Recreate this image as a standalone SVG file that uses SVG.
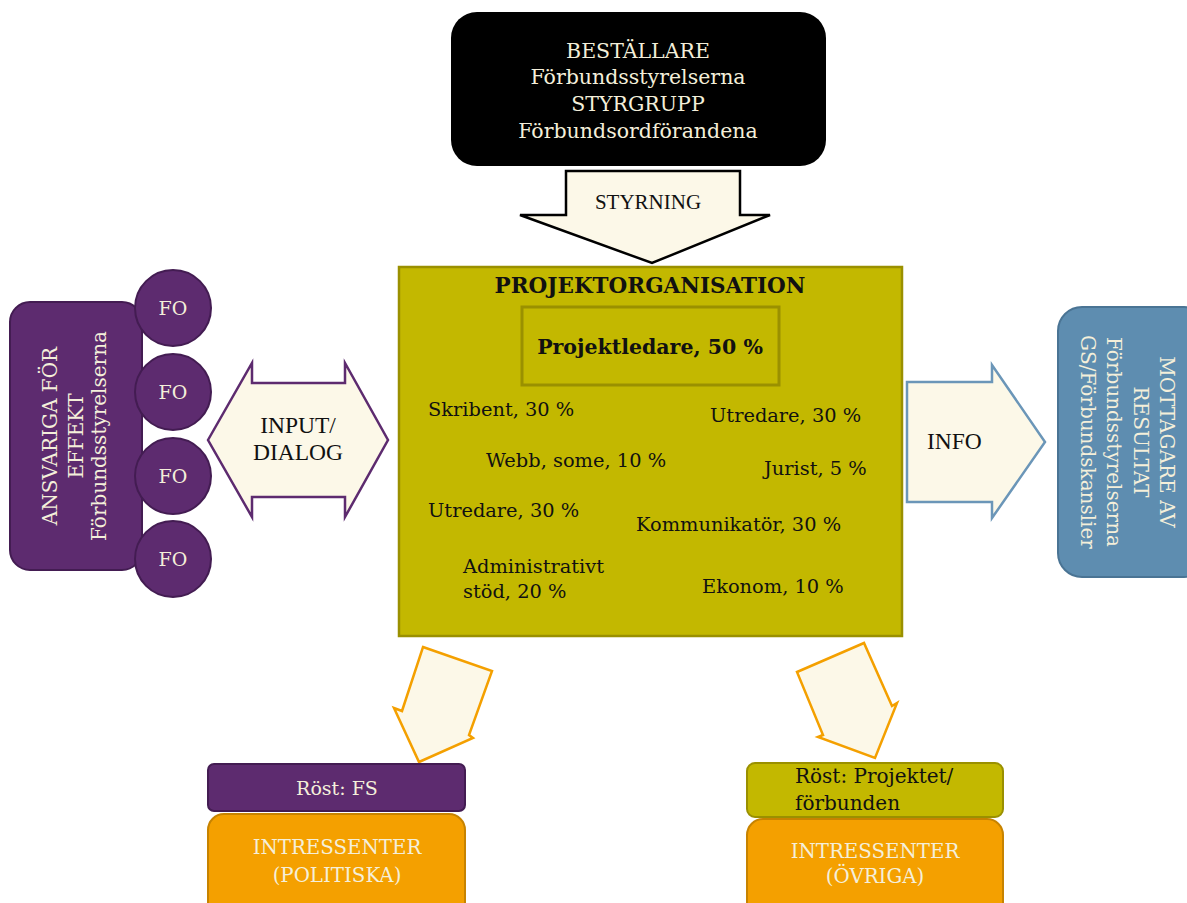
<svg xmlns="http://www.w3.org/2000/svg" width="1187" height="903" viewBox="0 0 1187 903">
<style>
.g{font-family:"DejaVu Serif","Liberation Serif",serif;}
.t{font-family:"Liberation Serif","Times New Roman",serif;}
.cream{fill:#f4efda;}
.blk{fill:#111;}
.arrow{fill:#fcf8e8;}
.purple{fill:#5d2b6f;stroke:#431c52;stroke-width:2;}
.olive{fill:#c3b800;stroke:#9a9000;stroke-width:2;}
.orange{fill:#f4a000;stroke:#c78300;stroke-width:2;}
</style>
<rect width="1187" height="903" fill="#ffffff"/>

<g id="connectors">
  <g id="styrning">
    <polygon class="arrow" points="566,171 740,171 740,215 770,215 652,263 520,215 566,215" stroke="#000" stroke-width="2.5" stroke-linejoin="miter"/>
    <text class="t blk" x="648" y="209" font-size="21" text-anchor="middle">STYRNING</text>
  </g>
  <g id="input-dialog">
    <polygon class="arrow" points="208,440 252,363 252,383 345,383 345,363 388,440 345,517 345,497 252,497 252,517" stroke="#5d2b6f" stroke-width="2.5"/>
    <text class="t blk" x="298" y="433" font-size="23.5" text-anchor="middle">INPUT/</text>
    <text class="t blk" x="298" y="460" font-size="23.5" text-anchor="middle">DIALOG</text>
  </g>
  <g id="info">
    <polygon class="arrow" points="907,382 992,382 992,365 1045,442 992,518 992,502 907,502" stroke="#6b96b8" stroke-width="2.5"/>
    <text class="t blk" x="927" y="449" font-size="23.5">INFO</text>
  </g>
  <polygon id="arrow-left-down" class="arrow" points="423,647 492,671 469,735 473,738 419,762 394,708 402,711" stroke="#f4a000" stroke-width="2.5" stroke-linejoin="miter"/>
  <polygon id="arrow-right-down" class="arrow" points="797,672 864,643 892,706 897,703 875,758 818,737 823,735" stroke="#f4a000" stroke-width="2.5" stroke-linejoin="miter"/>
</g>

<g id="bestallare">
  <rect x="451" y="12" width="375" height="154" rx="26" fill="#000"/>
  <text class="g cream" x="638" y="58" font-size="20.5" text-anchor="middle">BESTÄLLARE</text>
  <text class="g cream" x="638" y="84" font-size="20.5" text-anchor="middle">Förbundsstyrelserna</text>
  <text class="g cream" x="638" y="111" font-size="20.5" text-anchor="middle">STYRGRUPP</text>
  <text class="g cream" x="638" y="138" font-size="20.5" text-anchor="middle">Förbundsordförandena</text>
</g>

<g id="projektorganisation">
  <rect x="399" y="267" width="503" height="369" fill="#c3b800" stroke="#9a9000" stroke-width="2.5"/>
  <text class="g blk" x="650" y="293" font-size="21.5" font-weight="bold" text-anchor="middle">PROJEKTORGANISATION</text>
  <rect x="522" y="307" width="257" height="78" fill="#c3b800" stroke="#9a9000" stroke-width="3"/>
  <text class="g blk" x="650" y="354" font-size="20.5" font-weight="bold" text-anchor="middle">Projektledare, 50 %</text>
  <g font-size="19.4" class="g blk">
    <text x="428" y="416">Skribent, 30 %</text>
    <text x="710" y="422">Utredare, 30 %</text>
    <text x="486" y="467">Webb, some, 10 %</text>
    <text x="764" y="475">Jurist, 5 %</text>
    <text x="428" y="517">Utredare, 30 %</text>
    <text x="636" y="531">Kommunikatör, 30 %</text>
    <text x="463" y="573">Administrativt</text>
    <text x="463" y="598">stöd, 20 %</text>
    <text x="702" y="593">Ekonom, 10 %</text>
  </g>
</g>

<g id="ansvariga">
  <rect x="10" y="302" width="132" height="268" rx="20" class="purple"/>
  <g transform="translate(0,436) rotate(-90)" class="g cream" font-size="20" text-anchor="middle">
    <text x="0" y="57">ANSVARIGA FÖR</text>
    <text x="0" y="83">EFFEKT</text>
    <text x="0" y="106">Förbundsstyrelserna</text>
  </g>
</g>

<g id="fo1"><circle cx="173" cy="308" r="38" class="purple"/><text class="g cream" x="173" y="315" font-size="19" text-anchor="middle">FO</text></g>
<g id="fo2"><circle cx="173" cy="392" r="38" class="purple"/><text class="g cream" x="173" y="399" font-size="19" text-anchor="middle">FO</text></g>
<g id="fo3"><circle cx="173" cy="476" r="38" class="purple"/><text class="g cream" x="173" y="483" font-size="19" text-anchor="middle">FO</text></g>
<g id="fo4"><circle cx="173" cy="559" r="38" class="purple"/><text class="g cream" x="173" y="566" font-size="19" text-anchor="middle">FO</text></g>

<g id="mottagare">
  <rect x="1058" y="307" width="150" height="270" rx="24" fill="#5e8db0" stroke="#4a7494" stroke-width="2"/>
  <g transform="translate(1187,442) rotate(90)" class="g cream" font-size="20" text-anchor="middle">
    <text x="0" y="27">MOTTAGARE AV</text>
    <text x="0" y="53">RESULTAT</text>
    <text x="0" y="80">Förbundsstyrelserna</text>
    <text x="0" y="106">GS/Förbundskanslier</text>
  </g>
</g>

<g id="rost-fs">
  <rect x="208" y="764" width="257" height="47" rx="6" class="purple"/>
  <text class="g cream" x="337" y="795" font-size="19" text-anchor="middle">Röst: FS</text>
</g>
<g id="intressenter-politiska">
  <rect x="208" y="814" width="257" height="110" rx="16" class="orange"/>
  <text class="g cream" x="337" y="854" font-size="19.8" text-anchor="middle">INTRESSENTER</text>
  <text class="g cream" x="337" y="882" font-size="19.8" text-anchor="middle">(POLITISKA)</text>
</g>

<g id="rost-projektet">
  <rect x="747" y="763" width="256" height="54" rx="8" class="olive"/>
  <text class="g blk" x="795" y="783" font-size="20">Röst: Projektet/</text>
  <text class="g blk" x="795" y="810" font-size="20">förbunden</text>
</g>
<g id="intressenter-ovriga">
  <rect x="747" y="819" width="256" height="110" rx="16" class="orange"/>
  <text class="g cream" x="875" y="858" font-size="19.8" text-anchor="middle">INTRESSENTER</text>
  <text class="g cream" x="875" y="883" font-size="19.8" text-anchor="middle">(ÖVRIGA)</text>
</g>
</svg>
